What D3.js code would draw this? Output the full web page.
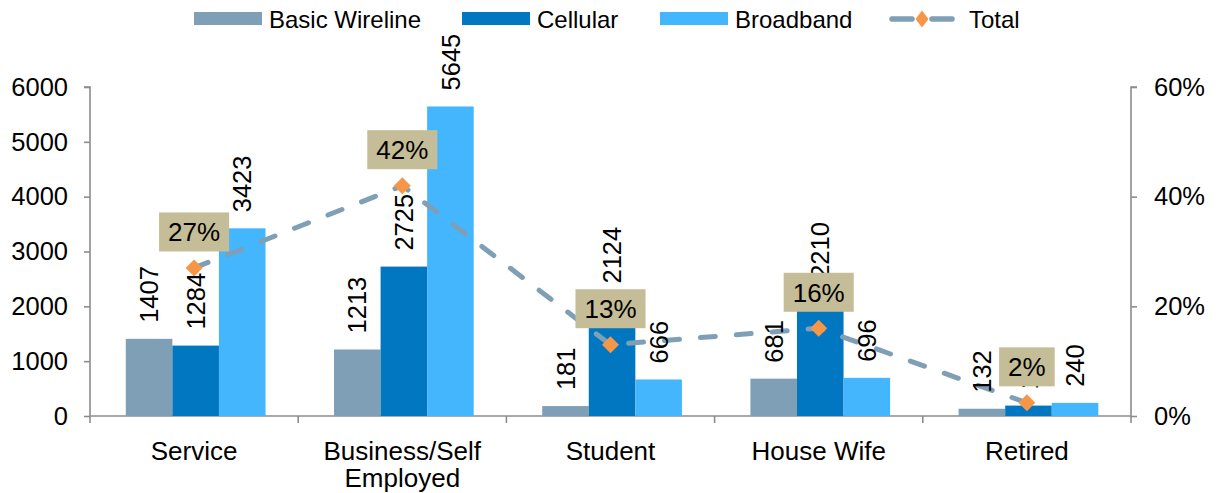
<!DOCTYPE html>
<html>
<head>
<meta charset="utf-8">
<script src="https://cdnjs.cloudflare.com/ajax/libs/d3/7.8.5/d3.min.js"></script>
<style>
  html, body { margin: 0; padding: 0; background: #ffffff; }
  svg { display: block; font-family: "Liberation Sans", Arial, sans-serif; }
</style>
</head>
<body>
<svg id="chart" width="1222" height="493"></svg>
<script>
// ---- Data ----
const categories = ["Service", "Business/Self Employed", "Student", "House Wife", "Retired"];
const seriesNames = ["Basic Wireline", "Cellular", "Broadband"];
const basicWireline = [1407, 1213, 181, 681, 132];
const cellular = [1284, 2725, 2124, 2210, 190];
const broadband = [3423, 5645, 666, 696, 240];
const totalShare = [0.27, 0.42, 0.13, 0.16, 0.024];
const leftTicks = [0, 1000, 2000, 3000, 4000, 5000, 6000];
const rightTicks = [0, 0.2, 0.4, 0.6];
const totalName = "Total";

// ---- Styles ----
const colors = ["#7f9fb6", "#0077c0", "#44b6fd"];
const lineColor = "#7f9fb6";
const markerColor = "#f79646";
const boxColor = "#c4bd97";
const axisColor = "#8c8c8c";
const fontSize = 25.5;

const svg = d3.select("#chart");
const margin = { left: 90, right: 1131, top: 87, bottom: 416 };

const x = d3.scaleBand().domain(categories).range([margin.left, margin.right]).paddingInner(0).paddingOuter(0);
const xs = d3.scaleBand().domain(seriesNames)
  .range([x.bandwidth() * 0.172, x.bandwidth() * 0.843]).padding(0);
const y = d3.scaleLinear().domain([0, 6000]).range([margin.bottom, margin.top]);
const y2 = d3.scaleLinear().domain([0, 0.6]).range([margin.bottom, margin.top]);

const seriesValues = [basicWireline, cellular, broadband];
const barData = [];
categories.forEach((c, i) => {
  seriesNames.forEach((s, j) => {
    barData.push({ cat: c, series: s, j: j, value: seriesValues[j][i] });
  });
});

// ---- Axes ----
const leftAxis = d3.axisLeft(y).tickValues(leftTicks).tickSize(6).tickPadding(16).tickFormat(d3.format("d"));
const gl = svg.append("g").attr("transform", `translate(${margin.left},0)`).call(leftAxis);
const rightAxis = d3.axisRight(y2).tickValues(rightTicks).tickSize(6).tickPadding(17).tickFormat(d3.format(".0%"));
const gr = svg.append("g").attr("transform", `translate(${margin.right},0)`).call(rightAxis);
[gl, gr].forEach(g => {
  g.select(".domain").attr("stroke", axisColor).attr("stroke-width", 1.6)
  g.selectAll(".tick line").attr("stroke", axisColor).attr("stroke-width", 1.6);
  g.selectAll(".tick text").attr("fill", "#000").attr("font-size", fontSize)
    .attr("font-family", "Liberation Sans, Arial, sans-serif");
});
gl.select(".domain").attr("d", `M-6,${margin.top}H0V${margin.bottom}`);
gr.select(".domain").attr("d", `M6,${margin.top}H0V${margin.bottom}`);

// x axis
const gx = svg.append("g");
gx.append("line").attr("x1", margin.left).attr("x2", margin.right)
  .attr("y1", margin.bottom).attr("y2", margin.bottom)
  .attr("stroke", axisColor).attr("stroke-width", 1.6);
const boundaries = categories.map(c => x(c)).concat([x(categories[categories.length - 1]) + x.bandwidth()]);
gx.selectAll("line.tk").data(boundaries).enter().append("line").attr("class", "tk")
  .attr("x1", d => d).attr("x2", d => d)
  .attr("y1", margin.bottom).attr("y2", margin.bottom + 7)
  .attr("stroke", axisColor).attr("stroke-width", 1.6);

const catLabels = gx.selectAll("text.cat").data(categories).enter().append("text").attr("class", "cat")
  .attr("x", d => x(d) + x.bandwidth() / 2)
  .attr("y", 460)
  .attr("text-anchor", "middle")
  .attr("font-size", 26)
  .attr("fill", "#000");
catLabels.each(function (d) {
  const t = d3.select(this);
  const words = d.split(" ");
  let line = [];
  let tspan = t.append("tspan").attr("x", x(d) + x.bandwidth() / 2).attr("dy", 0);
  words.forEach(w => {
    line.push(w);
    tspan.text(line.join(" "));
    if (tspan.node().getComputedTextLength() > x.bandwidth() - 20 && line.length > 1) {
      line.pop();
      tspan.text(line.join(" "));
      line = [w];
      tspan = t.append("tspan").attr("x", x(d) + x.bandwidth() / 2).attr("dy", 27).text(w);
    }
  });
});

// ---- Bars ----
svg.append("g").selectAll("rect").data(barData).enter().append("rect")
  .attr("x", d => x(d.cat) + xs(d.series))
  .attr("y", d => y(d.value))
  .attr("width", xs.bandwidth())
  .attr("height", d => y(0) - y(d.value))
  .attr("fill", d => colors[d.j]);

// ---- Total line ----
const pts = categories.map((c, i) => ({ cat: c, v: totalShare[i], x: x(c) + x.bandwidth() / 2, y: y2(totalShare[i]) }));
svg.append("path").datum(pts)
  .attr("d", d3.line().x(d => d.x).y(d => d.y))
  .attr("fill", "none").attr("stroke", lineColor).attr("stroke-width", 5)
  .attr("stroke-linecap", "round").attr("stroke-dasharray", "15,21");

svg.append("g").selectAll("path").data(pts).enter().append("path")
  .attr("d", "M0,-8.5L8.5,0L0,8.5L-8.5,0Z")
  .attr("transform", d => `translate(${d.x},${d.y})`)
  .attr("fill", markerColor);

// ---- Bar value labels ----
svg.append("g").selectAll("text").data(barData).enter().append("text")
  .attr("transform", d => `translate(${x(d.cat) + xs(d.series) + xs.bandwidth() / 2},${y(d.value) - 16}) rotate(-90)`)
  .attr("dy", "0.36em")
  .attr("text-anchor", "start")
  .attr("font-size", fontSize)
  .attr("fill", "#000")
  .text(d => d.value);

// ---- Percentage labels with boxes ----
const fmtPct = d3.format(".0%");
const pg = svg.append("g").selectAll("g").data(pts).enter().append("g")
  .attr("transform", d => `translate(${d.x},${d.y - 36})`);
pg.append("rect").attr("fill", boxColor);
pg.append("text").attr("text-anchor", "middle").attr("dy", "0.36em")
  .attr("font-size", 26).attr("fill", "#000").text(d => fmtPct(d.v));
pg.each(function () {
  const g = d3.select(this);
  const w = g.select("text").node().getComputedTextLength();
  g.select("rect").attr("x", -w / 2 - 9).attr("y", -19.5).attr("width", w + 18).attr("height", 39);
});

// ---- Legend ----
const legend = svg.append("g");
const legendItems = seriesNames.map((s, j) => ({ name: s, type: "bar", j: j })).concat([{ name: totalName, type: "line" }]);
const legendX = [194, 462, 660, 890];
const li = legend.selectAll("g").data(legendItems).enter().append("g")
  .attr("transform", (d, i) => `translate(${legendX[i]},0)`);
li.filter(d => d.type === "bar").append("rect")
  .attr("x", 0).attr("y", 12).attr("width", 68).attr("height", 13)
  .attr("fill", d => colors[d.j]);
const lineItem = li.filter(d => d.type === "line");
lineItem.append("line").attr("x1", 2).attr("x2", 22).attr("y1", 19).attr("y2", 19)
  .attr("stroke", lineColor).attr("stroke-width", 5.5).attr("stroke-linecap", "round");
lineItem.append("line").attr("x1", 42).attr("x2", 62).attr("y1", 19).attr("y2", 19)
  .attr("stroke", lineColor).attr("stroke-width", 5.5).attr("stroke-linecap", "round");
lineItem.append("path").attr("d", "M0,-8.5L6.5,0L0,8.5L-6.5,0Z")
  .attr("transform", "translate(32,19)").attr("fill", markerColor);
li.append("text")
  .attr("x", d => d.type === "line" ? 79 : 75)
  .attr("y", 27.5)
  .attr("font-size", 24).attr("fill", "#000")
  .text(d => d.name);
</script>
</body>
</html>
